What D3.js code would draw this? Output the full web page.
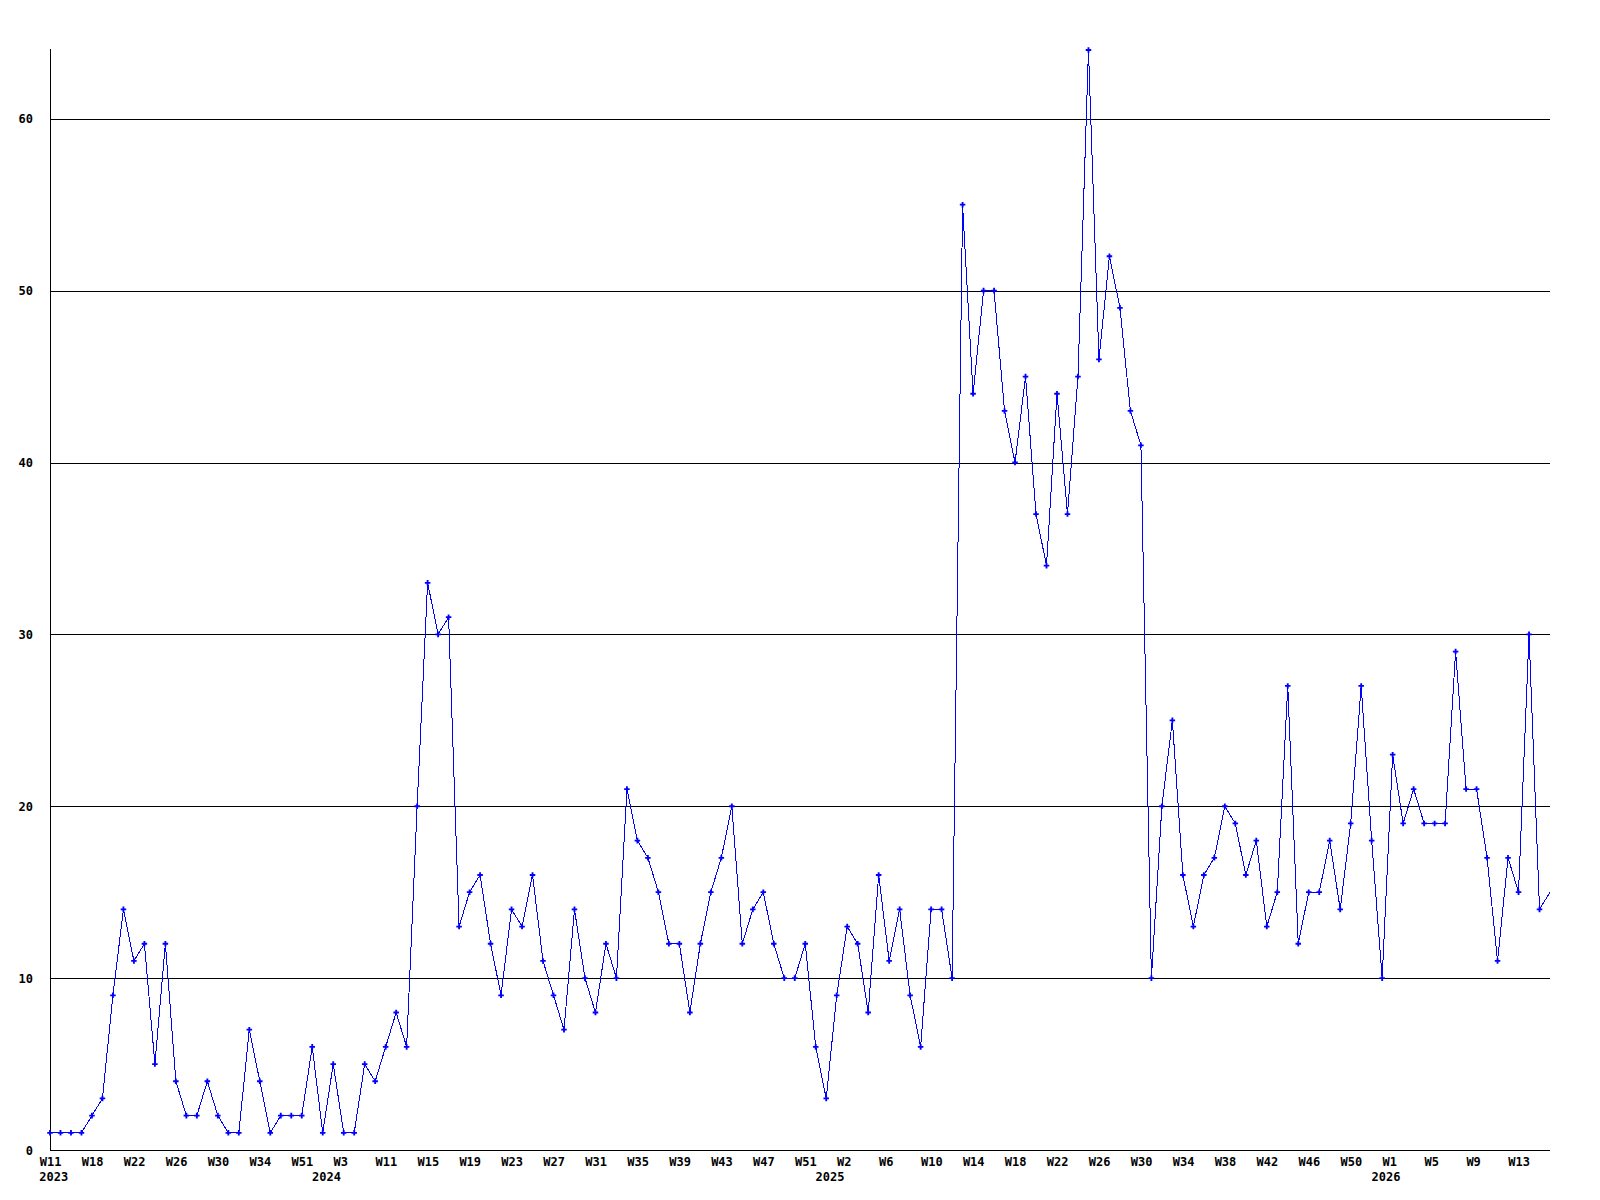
<!DOCTYPE html>
<html>
<head>
<meta charset="utf-8">
<script src="https://cdn.jsdelivr.net/npm/d3@7"></script>
<style>
  body { margin: 0; background: #fff; }
  svg { display: block; }
  .axis text { font-family: "DejaVu Sans Mono", monospace; font-weight: bold; font-size: 12px; fill: #000; }
</style>
</head>
<body>
<div id="chart"></div>
<script>
var width = 1600,
    height = 1200;

var margin = {top: 50, right: 50, bottom: 50, left: 50};

// weekly counts, one per point on the x axis
var counts = [1,1,1,1,2,3,9,14,11,12, 5,12,4,2,2,4,2,1,1,7,
              4,1,2,2,2,6,1,5,1,1, 5,4,6,8,6,20,33,30,31,13,
              15,16,12,9,14,13,16,11,9,7, 14,10,8,12,10,21,18,17,15,12,
              12,8,12,15,17,20,12,14,15,12, 10,10,12,6,3,9,13,12,8,16,
              11,14,9,6,14,14,10,55,44,50, 50,43,40,45,37,34,44,37,45,64,
              46,52,49,43,41,10,20,25,16,13, 16,17,20,19,16,18,13,15,27,12,
              15,15,18,14,19,27,18,10,23,19, 21,19,19,19,29,21,21,17,11,17,
              15,30,14,15];

// a week label every 4th point
var weekLabels = ["W11","W18","W22","W26","W30","W34","W51","W3","W11","W15",
                  "W19","W23","W27","W31","W35","W39","W43","W47","W51","W2",
                  "W6","W10","W14","W18","W22","W26","W30","W34","W38","W42",
                  "W46","W50","W1","W5","W9","W13"];
var weekStep = 4;

var years = ["2023","2024","2025","2026"];
var yearIndex = [0, 26, 74, 127];

var yTicks = [0, 10, 20, 30, 40, 50, 60];

var x = d3.scaleLinear()
    .domain([0, counts.length - 1])
    .range([margin.left, width - margin.right]);

var y = d3.scaleLinear()
    .domain([0, d3.max(counts)])
    .range([height - margin.bottom, margin.top]);

var svg = d3.select("#chart").append("svg")
    .attr("width", width)
    .attr("height", height);

// y axis + horizontal grid
var yAxis = svg.append("g")
    .attr("class", "axis")
    .attr("transform", "translate(" + margin.left + ",0)")
    .call(d3.axisLeft(y)
      .tickValues(yTicks)
      .tickSize(-(width - margin.left - margin.right))
      .tickPadding(17));
yAxis.select(".domain").remove();
yAxis.selectAll(".tick line")
    .attr("stroke", "#000")
    .attr("shape-rendering", "crispEdges");
yAxis.selectAll(".tick text").attr("dy", "0.35em");

// x axis labels
var tickIdx = weekLabels.map(function(d, i) { return i * weekStep; });
var xAxis = svg.append("g")
    .attr("class", "axis")
    .attr("transform", "translate(0," + (height - margin.bottom) + ")")
    .call(d3.axisBottom(x)
      .tickValues(tickIdx)
      .tickFormat(function(d, i) { return weekLabels[i]; })
      .tickSize(0)
      .tickPadding(0));
xAxis.select(".domain").remove();
xAxis.selectAll(".tick text")
    .attr("text-anchor", "start")
    .attr("x", -10.7)
    .attr("y", 16)
    .attr("dy", null);

svg.append("g")
    .attr("class", "axis")
    .selectAll("text")
    .data(years)
    .enter().append("text")
      .attr("x", function(d, i) { return x(yearIndex[i]) - 10.7; })
      .attr("y", height - margin.bottom + 31)
      .text(function(d) { return d; });

// frame: left and bottom axis lines
svg.append("line")
    .attr("x1", margin.left).attr("x2", margin.left)
    .attr("y1", margin.top - 1).attr("y2", height - margin.bottom)
    .attr("stroke", "#000")
    .attr("shape-rendering", "crispEdges");
svg.append("line")
    .attr("x1", margin.left).attr("x2", width - margin.right)
    .attr("y1", height - margin.bottom).attr("y2", height - margin.bottom)
    .attr("stroke", "#000")
    .attr("shape-rendering", "crispEdges");

// data line
var line = d3.line()
    .x(function(d, i) { return x(i); })
    .y(function(d) { return y(d); });

svg.append("path")
    .datum(counts)
    .attr("fill", "none")
    .attr("stroke", "#0000ff")
    .attr("stroke-width", 1)
    .attr("shape-rendering", "crispEdges")
    .attr("d", line);

var marker = d3.symbol().type(d3.symbolCross).size(17);

// the last point sits on the plot edge and has no marker
svg.append("g")
    .selectAll("path")
    .data(counts.slice(0, -1))
    .enter().append("path")
      .attr("transform", function(d, i) { return "translate(" + x(i) + "," + y(d) + ")"; })
      .attr("d", marker)
      .attr("fill", "#0000ff");
</script>
</body>
</html>
